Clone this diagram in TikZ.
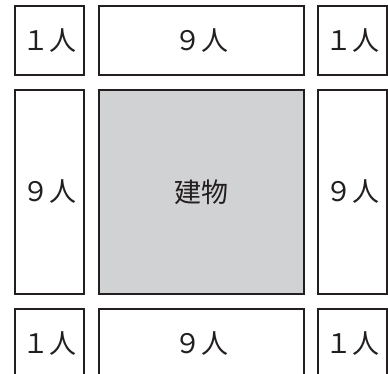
\documentclass[tikz,border=0pt]{standalone}
\usepackage{fontspec}
\newfontfamily\jpfont{Noto Sans CJK JP}
\usetikzlibrary{positioning}

\definecolor{edge}{HTML}{231F20}
\definecolor{bldg}{HTML}{D1D2D4}

\tikzset{
  plot/.style={draw=edge, line width=2.5pt, rectangle, inner sep=0pt, font=\jpfont\fontsize{27}{27}\selectfont, text=edge},
  small/.style={plot, minimum width=69pt, minimum height=69pt},
}

\begin{document}
\begin{tikzpicture}[x=1pt, y=-1pt]
				\useasboundingbox (0,0) rectangle (388,373);
				\clip (0,0) rectangle (388,373);
				% top row
				\node[small] (tl) at (49.5,40.5) {１人};
				\node[plot, minimum width=205pt, minimum height=69pt] (tm) at (201.5,40.5) {９人};
				\node[small] (tr) at (352.5,40.5) {１人};
				% middle row
				\node[plot, minimum width=69pt, minimum height=204pt] (ml) at (49.5,192) {９人};
				\node[plot, fill=bldg, minimum width=205pt, minimum height=204pt] (house) at (201.5,192) {建物};
				\node[plot, minimum width=69pt, minimum height=204pt] (mr) at (352.5,192) {９人};
				% bottom row
				\node[small] (bl) at (49.5,343.5) {１人};
				\node[plot, minimum width=205pt, minimum height=69pt] (bm) at (201.5,343.5) {９人};
				\node[small] (br) at (352.5,343.5) {１人};
			\end{tikzpicture}
\end{document}
